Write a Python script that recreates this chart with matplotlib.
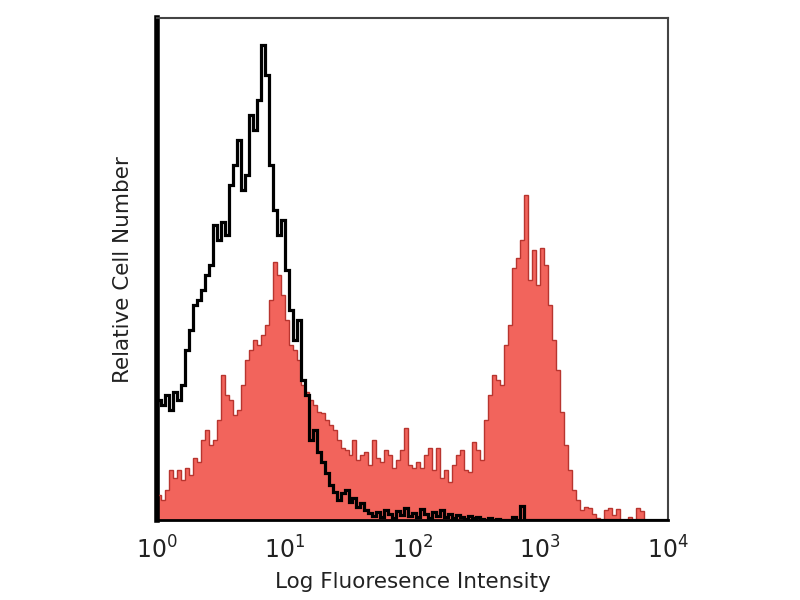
import numpy as np
import matplotlib
matplotlib.use('Agg')
import matplotlib.pyplot as plt
from matplotlib.ticker import FixedLocator

# Histogram channels: 128 bins spanning 10^0 .. 10^4
n_bins = 128
bin_edges = np.logspace(0, 4, n_bins + 1)

# Isotype control (black outline), relative counts per channel
control_counts = [
    120, 115, 125, 110, 128, 120, 135, 170, 190, 215, 220, 230, 245, 255, 295, 280,
    298, 285, 335, 355, 380, 330, 345, 405, 390, 420, 475, 445, 355, 310, 285, 300,
    250, 210, 180, 200, 140, 125, 80, 90, 68, 58, 47, 35, 28, 20, 27, 30,
    18, 22, 13, 17, 10, 7, 4, 8, 3, 10, 6, 2, 9, 5, 12, 4,
    7, 3, 11, 6, 2, 8, 4, 10, 3, 6, 2, 5, 3, 1, 4, 2,
    3, 1, 0, 2, 0, 1, 0, 0, 0, 3, 0, 14, 0, 0, 0, 0,
    0, 0, 0, 0, 0, 0, 0, 0, 0, 0, 0, 0, 0, 0, 0, 0,
    0, 0, 0, 0, 0, 0, 0, 0, 0, 0, 0, 0, 0, 0, 0, 0,
]

# Stained sample (red filled), relative counts per channel
stained_counts = [
    25, 20, 30, 50, 42, 50, 40, 52, 45, 62, 58, 80, 90, 75, 80, 100,
    145, 125, 120, 105, 110, 135, 160, 170, 180, 175, 185, 195, 220, 258, 245, 225,
    200, 175, 170, 160, 135, 128, 120, 115, 108, 107, 100, 95, 90, 80, 72, 70,
    65, 80, 60, 65, 68, 55, 80, 62, 58, 70, 65, 52, 60, 70, 92, 55,
    52, 58, 52, 65, 72, 50, 72, 42, 50, 38, 55, 65, 70, 50, 48, 78,
    70, 60, 100, 125, 145, 140, 135, 175, 195, 252, 262, 280, 325, 240, 270, 235,
    272, 255, 215, 180, 150, 108, 75, 50, 30, 20, 10, 13, 12, 6, 2, 0,
    10, 12, 5, 11, 0, 0, 3, 0, 12, 9, 0, 0, 0, 0, 0, 0,
]

tick_values = [1, 10, 100, 1000, 10000]
tick_labels = [r'$10^{0}$', r'$10^{1}$', r'$10^{2}$', r'$10^{3}$', r'$10^{4}$']

fig = plt.figure(figsize=(8, 6), dpi=100)
ax = fig.add_axes([0.196, 0.133, 0.639, 0.837])

ax.stairs(stained_counts, bin_edges, fill=True, color='#f2645c', zorder=2)
ax.stairs(stained_counts, bin_edges, color='#b8352f', linewidth=1.0, zorder=3)
ax.stairs(control_counts, bin_edges, color='black', linewidth=2.3, zorder=4)

ax.set_xscale('log')
ax.set_xlim(1, 1e4)
ax.set_ylim(0, 502)
ax.xaxis.set_major_locator(FixedLocator(tick_values))
ax.xaxis.set_minor_locator(FixedLocator([]))
ax.set_xticklabels(tick_labels)
ax.set_yticks([])
ax.tick_params(axis='x', length=0, pad=12, labelsize=17, labelcolor='#222222')

ax.set_xlabel('Log Fluoresence Intensity', fontsize=15.5, labelpad=6, color='#222222')
ax.set_ylabel('Relative Cell Number', fontsize=15.5, labelpad=17, color='#222222')

ax.spines['left'].set_linewidth(4)
ax.spines['left'].set_color('black')
ax.spines['bottom'].set_linewidth(2)
ax.spines['bottom'].set_color('black')
ax.spines['top'].set_linewidth(1.5)
ax.spines['top'].set_color('#444444')
ax.spines['right'].set_linewidth(1.5)
ax.spines['right'].set_color('#444444')

plt.savefig('out.png', dpi=100)
plt.close()
